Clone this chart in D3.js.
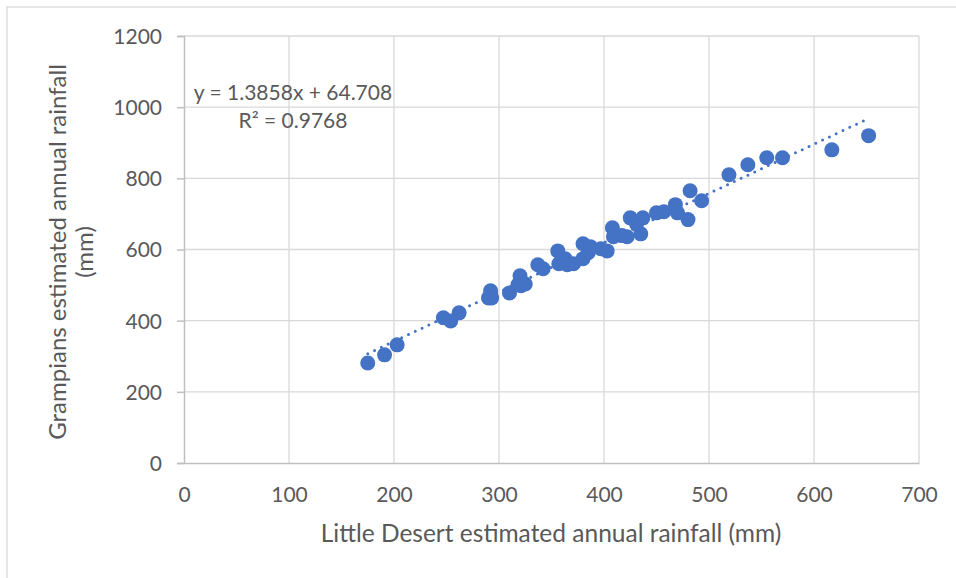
<!DOCTYPE html>
<html>
<head>
<meta charset="utf-8">
<script src="https://cdn.jsdelivr.net/npm/d3@7"></script>
<style>
  body { margin: 0; background: #fff; }
  text { font-family: Lato, "Open Sans", sans-serif; fill: #595959; }
</style>
</head>
<body>
<div id="chart"></div>
<script>
// DATOS
const littleDesert = [175, 191, 203, 247, 254, 262, 290, 292, 293, 310, 318, 320, 321, 325,
  337, 342, 356, 357, 363, 365, 371, 380, 380, 385, 387, 397, 403, 408, 409, 417, 422,
  425, 431, 435, 437, 450, 457, 468, 470, 480, 482, 493, 519, 537, 555, 570, 617, 652]
const grampians = [281, 304, 332, 408, 399, 422, 464, 484, 464, 478, 501, 526, 498, 503,
  557, 546, 596, 560, 574, 557, 560, 574, 616, 591, 608, 602, 596, 661, 636, 639, 636,
  689, 672, 644, 689, 703, 706, 726, 703, 684, 765, 737, 810, 838, 858, 858, 880, 920]
const xTicks = [0, 100, 200, 300, 400, 500, 600, 700]
const yTicks = [0, 200, 400, 600, 800, 1000, 1200]
const slope = 1.3858
const intercept = 64.708
const equationLabel = "y = 1.3858x + 64.708"
const r2Label = "R² = 0.9768"

const puntos = littleDesert.map((d, i) => ({ x: d, y: grampians[i] }))

// CTES
const width = 956
const height = 578
const margin = { left: 184, right: 37, top: 36, bottom: 115 }
const innerW = width - margin.left - margin.right
const innerH = height - margin.top - margin.bottom
const azul = "#4472C4"

const svg = d3.select("#chart").append("svg").attr("width", width).attr("height", height)

// borde del grafico
svg.append("rect").attr("x", 7).attr("y", 7).attr("width", 960).attr("height", 580)
  .attr("fill", "none").attr("stroke", "#d9d9d9").attr("stroke-width", 1.3)

const g = svg.append("g").attr("transform", `translate(${margin.left}, ${margin.top})`)

// ESCALAS
const x = d3.scaleLinear().domain([0, 700]).range([0, innerW])
const y = d3.scaleLinear().domain([0, 1200]).range([innerH, 0])

// rejilla
g.append("g").selectAll("line").data(xTicks.slice(1)).join("line")
  .attr("x1", d => x(d)).attr("x2", d => x(d)).attr("y1", 0).attr("y2", innerH)
  .attr("stroke", "#d9d9d9").attr("stroke-width", 1.3)
g.append("g").selectAll("line").data(yTicks.slice(1)).join("line")
  .attr("x1", 0).attr("x2", innerW).attr("y1", d => y(d)).attr("y2", d => y(d))
  .attr("stroke", "#d9d9d9").attr("stroke-width", 1.3)

// EJES
const xAxisGroup = g.append("g").attr("transform", `translate(0, ${innerH})`)
  .call(d3.axisBottom(x).tickValues(xTicks).tickFormat(d3.format("d")).tickSize(0).tickPadding(24))
const yAxisGroup = g.append("g")
  .call(d3.axisLeft(y).tickValues(yTicks).tickFormat(d3.format("d")).tickSize(7).tickPadding(15))
;[xAxisGroup, yAxisGroup].forEach(ax => {
  ax.select(".domain").attr("stroke", "#bfbfbf").attr("stroke-width", 1.5)
  ax.selectAll(".tick line").attr("stroke", "#bfbfbf").attr("stroke-width", 1.5)
  ax.selectAll(".tick text").style("font-size", "21px").attr("fill", "#595959")
})
yAxisGroup.selectAll(".tick text").attr("dy", "0.35em")

// linea de tendencia
const xMin = d3.min(littleDesert), xMax = d3.max(littleDesert)
g.append("line")
  .attr("x1", x(xMin)).attr("y1", y(slope * xMin + intercept))
  .attr("x2", x(xMax)).attr("y2", y(slope * xMax + intercept))
  .attr("stroke", azul).attr("stroke-width", 3).attr("stroke-linecap", "round")
  .attr("stroke-dasharray", "0,7.5")

// puntos
g.append("g").selectAll("circle").data(puntos).join("circle")
  .attr("cx", d => x(d.x)).attr("cy", d => y(d.y)).attr("r", 7.5)
  .attr("fill", azul)

// ecuacion
svg.append("text").attr("x", 293).attr("y", 100).attr("text-anchor", "middle")
  .style("font-size", "21px").text(equationLabel)
svg.append("text").attr("x", 293).attr("y", 128).attr("text-anchor", "middle")
  .style("font-size", "21px").text(r2Label)

// titulos de ejes
svg.append("text").attr("x", 551).attr("y", 542).attr("text-anchor", "middle")
  .style("font-size", "24.5px").text("Little Desert estimated annual rainfall (mm)")
const yTitle = svg.append("text").attr("text-anchor", "middle")
  .attr("transform", "translate(66, 252) rotate(-90)").style("font-size", "24px")
yTitle.append("tspan").attr("x", 0).attr("y", 0).text("Grampians estimated annual rainfall")
yTitle.append("tspan").attr("x", 0).attr("y", 27).text("(mm)")
</script>
</body>
</html>
